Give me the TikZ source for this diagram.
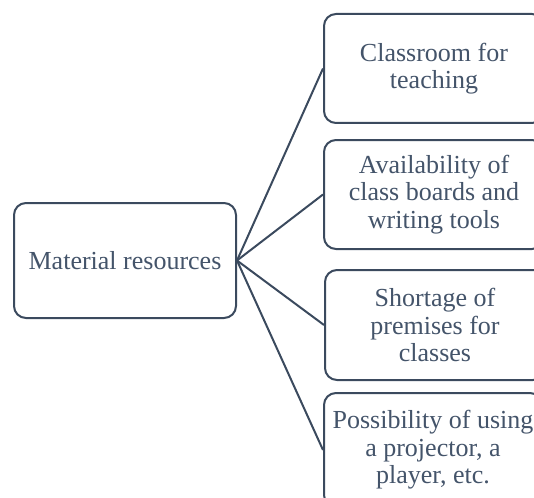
\documentclass[tikz,border=0pt]{standalone}
\usepackage{fontspec}
\setmainfont{Liberation Serif}
\definecolor{boxline}{HTML}{3B4A5E}
\definecolor{boxtext}{HTML}{44546A}
\begin{document}
\begin{tikzpicture}[x=1pt,y=-1pt,
  box/.style={draw=boxline, line width=2pt, rounded corners=12pt, fill=white,
    text=boxtext, align=center, font=\fontsize{26}{27.5}\selectfont,
    inner sep=0pt, anchor=north west},
  conn/.style={draw=boxline, line width=2pt}]
\useasboundingbox (0,0) rectangle (534,497);
\clip (0,0) rectangle (534,497);
\node[box, minimum width=222pt, minimum height=115pt] (m) at (13,202) {Material resources};
\node[box, minimum width=220pt, minimum height=109pt] (a) at (323,13) {Classroom for\\teaching};
\node[box, minimum width=220pt, minimum height=109pt] (b) at (323,139) {Availability of\\class boards and\\writing tools};
\node[box, minimum width=220pt, minimum height=110pt] (c) at (324,269) {Shortage of\\premises for\\classes};
\node[box, minimum width=218pt, minimum height=114pt] (d) at (323,392) {Possibility of using\\a projector, a\\player, etc.};
\draw[conn] (m.east) -- (a.west);
\draw[conn] (m.east) -- (b.west);
\draw[conn] (m.east) -- (c.west);
\draw[conn] (m.east) -- (d.west);
\end{tikzpicture}
\end{document}
